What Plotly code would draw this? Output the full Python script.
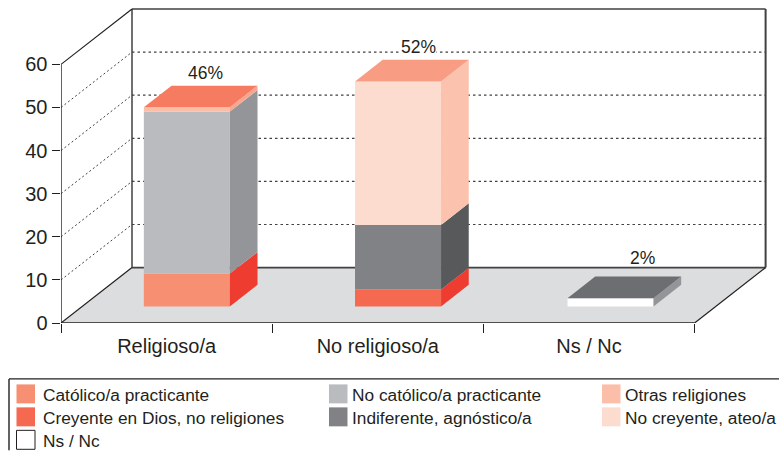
import plotly.graph_objects as go

# ---------- data ----------
categories = ["Religioso/a", "No religioso/a", "Ns / Nc"]
y_ticks = [0, 10, 20, 30, 40, 50, 60]
total_labels = ["46%", "52%", "2%"]

catolico = [7.6, 0, 0]
creyente = [0, 3.9, 0]
no_catolico = [37.6, 0, 0]
indiferente = [0, 15.0, 0]
otras = [1.0, 0, 0]
no_creyente = [0, 33.3, 0]
ns_nc = [0, 0, 1.9]

series = [
    ("Católico/a practicante", catolico, "#F78F72", "#EF3C31", "#F67C61"),
    ("Creyente en Dios, no religiones", creyente, "#F4694F", "#EF3C31", "#F67C61"),
    ("No católico/a practicante", no_catolico, "#B9BBBE", "#939598", "#939598"),
    ("Indiferente, agnóstico/a", indiferente, "#808285", "#58595B", "#58595B"),
    ("Otras religiones", otras, "#FBBEA8", "#F9A68F", "#F67C61"),
    ("No creyente, ateo/a", no_creyente, "#FDDCD0", "#FBC2AD", "#F89C83"),
    ("Ns / Nc", ns_nc, "#FFFFFF", "#939598", "#6D6E71"),
]
legend_rows = [
    ("Católico/a practicante", "#F78F72", 0, 0),
    ("No católico/a practicante", "#B9BBBE", 1, 0),
    ("Otras religiones", "#FBBEA8", 2, 0),
    ("Creyente en Dios, no religiones", "#F4694F", 0, 1),
    ("Indiferente, agnóstico/a", "#808285", 1, 1),
    ("No creyente, ateo/a", "#FDDCD0", 2, 1),
    ("Ns / Nc", "#FFFFFF", 0, 2),
]

# ---------- layout constants ----------
W, H = 779, 451
L, T, R, B = 61, 5, 9, 127.5
PW, PH = W - L - R, H - T - B
CAT_PX = 211.2
UNIT_PX = 4.317
X_MAX = PW / CAT_PX
Y_MAX = PH / UNIT_PX
DX = 71.0 / CAT_PX          # oblique depth in category units
DY = 55.5 / UNIT_PX         # oblique depth in value units
BAR_W = 86 / CAT_PX
Z0, ZD = 0.285, 0.39        # bar start and depth along the floor
Z0Y = 0.30
INK = "#231F20"
WALL = "#414042"
FONT = "Liberation Sans, Arial, sans-serif"
label_shift = [(5, 12.2), (7, 12.7), (18, 18.7)]
bar_nudge = [0, 0, 0.006]

fig = go.Figure()


def line_shape(x0, y0, x1, y1, **kw):
    fig.add_shape(type="line", xref="x", yref="y", x0=x0, y0=y0, x1=x1, y1=y1,
                  layer="below", line=kw)


# floor
fig.add_shape(type="path", xref="x", yref="y", layer="below", line_width=0,
              fillcolor="#DCDDDF",
              path=f"M0,0 L{len(categories)},0 L{len(categories)+DX},{DY} L{DX},{DY} Z")
# gridlines
for v in y_ticks[1:-1]:
    line_shape(0, v, DX, v + DY, color=WALL, width=1, dash="2px,2.5px")
    line_shape(DX, v + DY, len(categories) + DX, v + DY, color=WALL, width=1.2, dash="2.5px,3px")
# back wall outline
top = y_ticks[-1] + DY
n = len(categories)
line_shape(DX, DY, DX, top, color=WALL, width=1.5)
line_shape(DX, top, n + DX, top, color=WALL, width=1.5)
line_shape(n + DX, DY, n + DX, top, color=WALL, width=2)
line_shape(DX, DY, n + DX, DY, color=WALL, width=1.6)

# bars
heights = [0.0] * n
for name, vals, front, side, topc in series:
    fig.add_trace(go.Bar(
        x=[i + 0.5 + Z0 * DX + bar_nudge[i] for i in range(n)],
        y=vals,
        base=[h + Z0Y * DY for h in heights],
        width=BAR_W,
        marker=dict(color=front, line_width=0),
        name=name, showlegend=False, hoverinfo="skip",
    ))
    for i, v in enumerate(vals):
        if v <= 0:
            continue
        xr = i + 0.5 + Z0 * DX + bar_nudge[i] + BAR_W / 2
        b = heights[i] + Z0Y * DY
        d_x, d_y = ZD * DX, ZD * DY
        fig.add_trace(go.Scatter(
            x=[xr, xr + d_x, xr + d_x, xr, xr],
            y=[b, b + d_y, b + v + d_y, b + v, b],
            mode="lines", fill="toself", fillcolor=side, line=dict(width=0),
            showlegend=False, hoverinfo="skip", cliponaxis=False,
        ))
        heights[i] += v
    # top faces are drawn once the stack is complete
top_color = {}
for name, vals, front, side, topc in series:
    for i, v in enumerate(vals):
        if v > 0:
            top_color[i] = topc
for i in range(n):
    xl = i + 0.5 + Z0 * DX + bar_nudge[i] - BAR_W / 2
    xr = xl + BAR_W
    t = heights[i] + Z0Y * DY
    d_x, d_y = ZD * DX, ZD * DY
    fig.add_trace(go.Scatter(
        x=[xl, xr, xr + d_x, xl + d_x, xl],
        y=[t, t, t + d_y, t + d_y, t],
        mode="lines", fill="toself", fillcolor=top_color[i], line=dict(width=0),
        showlegend=False, hoverinfo="skip", cliponaxis=False,
    ))
    sx, sy = label_shift[i]
    fig.add_annotation(
        x=xl + BAR_W / 2 + d_x / 2, y=t + d_y, xref="x", yref="y",
        text=total_labels[i], showarrow=False, xshift=sx, yshift=sy,
        font=dict(family=FONT, size=17.5, color=INK), bgcolor="#FFFFFF" if i == 1 else None,
        borderpad=0,
    )

# front frame
for xs, ys, w in [
    ([0, 0], [0, y_ticks[-1]], 1.4),
    ([0, DX], [y_ticks[-1], top], 1.2),
    ([0, DX], [0, DY], 1.2),
    ([0, n], [0, 0], 1.6),
    ([n, n + DX], [0, DY], 1.2),
]:
    fig.add_trace(go.Scatter(x=xs, y=ys, mode="lines", line=dict(color=INK, width=w),
                             showlegend=False, hoverinfo="skip", cliponaxis=False))


def px_x(p):
    return (p - L) / PW


def px_y(p):
    return 1 - (p - T) / PH


# legend box (only top and left edges are inside the picture)
for x0, y0, x1, y1 in [(9, 379.5, W, 379.5), (9, 379.5, 9, H)]:
    fig.add_shape(type="line", xref="paper", yref="paper", x0=px_x(x0), y0=px_y(y0),
                  x1=px_x(x1), y1=px_y(y1), line=dict(color=INK, width=1.4))
col_sw = [16.5, 329, 602]
col_tx = [42, 351, 624]
row_top = [385, 408, 431]
for name, color, c, r in legend_rows:
    outlined = color == "#FFFFFF"
    fig.add_shape(type="rect", xref="paper", yref="paper",
                  x0=px_x(col_sw[c]), x1=px_x(col_sw[c] + 18.5),
                  y0=px_y(row_top[r]), y1=px_y(row_top[r] + 19),
                  fillcolor=color, line=dict(color=INK if outlined else color, width=1 if outlined else 0))
    fig.add_annotation(xref="paper", yref="paper", x=px_x(col_tx[c]), y=px_y(row_top[r] + 10.5),
                       xanchor="left", yanchor="middle", text=name, showarrow=False, borderpad=0,
                       font=dict(family=FONT, size=17.3, color=INK))

fig.update_layout(
    width=W, height=H, margin=dict(l=L, r=R, t=T, b=B),
    paper_bgcolor="#FFFFFF", plot_bgcolor="#FFFFFF",
    barmode="overlay", showlegend=False, font=dict(family=FONT, color=INK),
    xaxis=dict(range=[0, X_MAX], showgrid=False, zeroline=False, showline=False,
               tickmode="array", tickvals=[i + 0.5 for i in range(n)], ticktext=categories,
               ticks="", tickfont=dict(size=20, color=INK, family=FONT), ticklabelstandoff=9,
               minor=dict(tickmode="array", tickvals=list(range(n + 1)), ticks="outside",
                          ticklen=8.5, tickwidth=1, tickcolor=INK, showgrid=False)),
    yaxis=dict(range=[0, Y_MAX], showgrid=False, zeroline=False, showline=False,
               tickmode="array", tickvals=y_ticks, ticks="outside", ticklen=8.5, tickwidth=1.2,
               tickcolor=INK, tickfont=dict(size=20, color=INK, family=FONT)),
)

fig.write_html("out.html", config={"displayModeBar": False},
               post_script="document.body.style.margin='0';document.body.style.overflow='hidden';")
